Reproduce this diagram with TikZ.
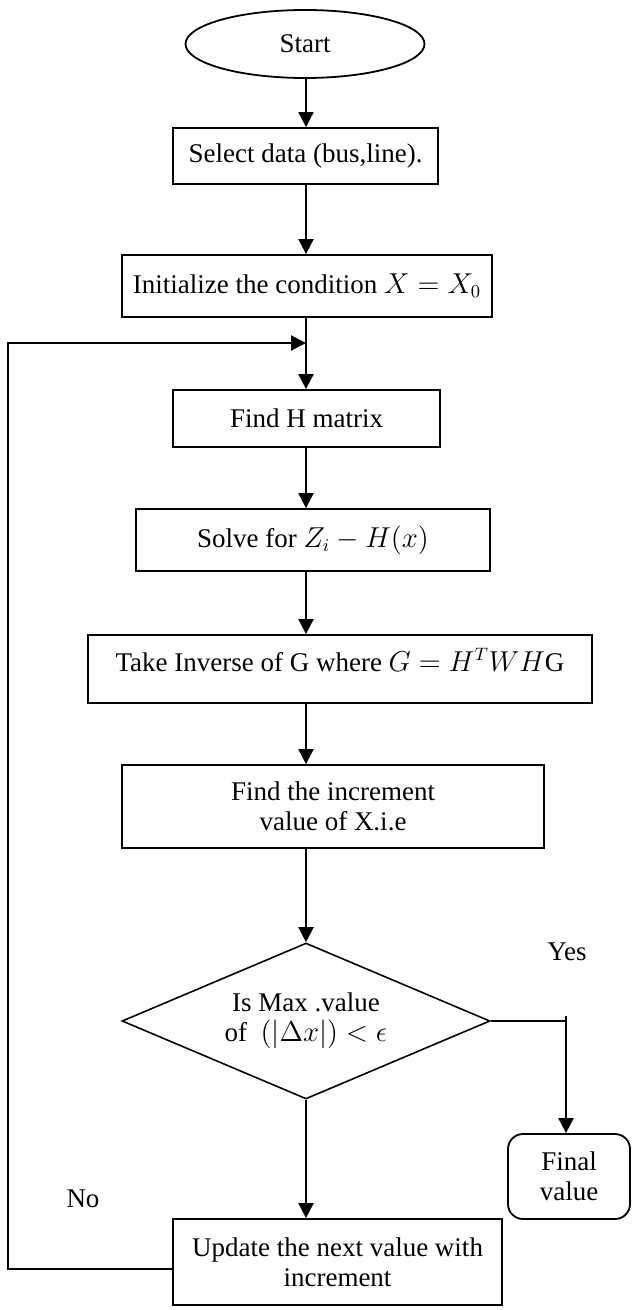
\documentclass[tikz,border=0pt]{standalone}
\usepackage{fontspec}
\setmainfont{Liberation Serif}
\usetikzlibrary{shapes.geometric,arrows.meta}
\begin{document}
\begin{tikzpicture}[x=0.5pt,y=-0.5pt,
  every node/.style={font=\fontsize{13.5}{15}\selectfont},
  box/.style={draw,line width=0.9pt,rectangle,inner sep=0pt,align=center},
  term/.style={draw,line width=0.9pt,ellipse,inner sep=0pt},
  decide/.style={draw,line width=0.8pt,diamond,inner sep=0pt,align=center,aspect=2.36},
  endbox/.style={draw,line width=0.9pt,rectangle,rounded corners=7.5pt,inner sep=0pt,align=center},
  arr/.style={line width=1pt,-{Triangle[width=7.5pt,length=7.5pt]}},
  conn/.style={line width=1pt},
  lbl/.style={inner sep=0pt}]
\useasboundingbox (0,0) rectangle (633,1310);

\node[term,minimum width=119.5pt,minimum height=34pt] (start) at (305,44) {Start};
\node[box,minimum width=132.5pt,minimum height=28pt] (sel) at (305.5,156) {Select data (bus,line).};
\node[box,minimum width=185pt,minimum height=31pt] (init) at (307,286) {Initialize the condition $X = X_0$};
\node[box,minimum width=133.5pt,minimum height=28.5pt] (findH) at (306.5,418.5) {Find H matrix};
\node[box,minimum width=177pt,minimum height=31pt] (solve) at (313,540) {Solve for $Z_i - H(x)$};
\node[box,minimum width=252pt,minimum height=34pt,text depth=9pt] (inv) at (340,669) {Take Inverse of G where $G = H^TWH$G};
\node[box,minimum width=211pt,minimum height=41.5pt] (inc) at (333,806.5) {Find the increment\\value of X.i.e};
\node[decide,minimum width=184pt,minimum height=78pt] (dia) at (306,1021) {Is Max .value\\of~~$(|\Delta x|) < \epsilon$};
\node[endbox,minimum width=61pt,minimum height=42.5pt] (final) at (569,1176.5) {Final\\value};
\node[box,minimum width=164.5pt,minimum height=43pt] (upd) at (337.5,1262) {Update the next value with\\increment};

\node[lbl] (yes) at (567,952) {Yes};
\node[lbl] (no) at (83,1199) {No};

\coordinate (j) at (306,343);
\coordinate (l1) at (8,1269);
\coordinate (l2) at (8,343);
\coordinate (yc) at (566,1021);
\coordinate (yt) at (566,1016);

\draw[arr] (start.south -| j) -- (sel.north -| j);
\draw[arr] (sel.south -| j) -- (init.north -| j);
\draw[arr] (init.south -| j) -- (findH.north -| j);
\draw[arr] (findH.south -| j) -- (solve.north -| j);
\draw[arr] (solve.south -| j) -- (inv.north -| j);
\draw[arr] (inv.south -| j) -- (inc.north -| j);
\draw[arr] (inc.south -| j) -- (dia.north);
\draw[arr] (dia.south) -- (upd.north -| j);
\draw[conn] (dia.east) -- (yc);
\draw[arr] (yt) -- (final.north -| yt);
\draw[arr] (upd.west |- l1) -- (l1) -- (l2) -- (j);
\end{tikzpicture}
\end{document}
